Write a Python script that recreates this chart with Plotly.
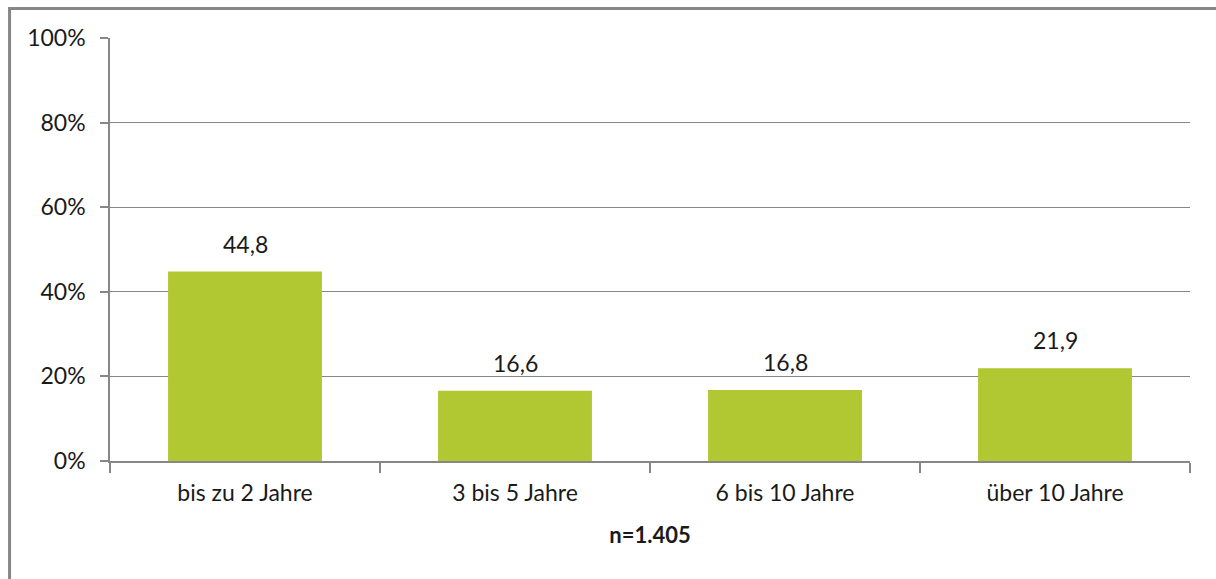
import plotly.graph_objects as go

categories = ["bis zu 2 Jahre", "3 bis 5 Jahre", "6 bis 10 Jahre", "über 10 Jahre"]
values = [44.8, 16.6, 16.8, 21.9]
y_ticks = [0, 20, 40, 60, 80, 100]
y_tick_labels = ["0%", "20%", "40%", "60%", "80%", "100%"]
x_title = "n=1.405"

FONT = "Lato, Carlito, Calibri, sans-serif"
GRID = "#878787"
FS = 23

fig = go.Figure()
fig.add_trace(go.Bar(
    x=categories, y=values, width=0.57,
    marker=dict(color="#b1c833", line=dict(width=0)),
    hoverinfo="skip",
))

for c, v in zip(categories, values):
    fig.add_annotation(x=c, y=v, text=f"{v:.1f}".replace(".", ","),
                       showarrow=False, yanchor="bottom", yshift=12,
                       font=dict(family=FONT, size=FS, color="#1a1a1a"))

# outer chart border (left/top visible, right/bottom beyond picture)
fig.add_shape(type="rect", xref="paper", yref="paper",
              x0=-0.0930, x1=1.06, y0=-0.4, y1=1.0697,
              line=dict(color="#878787", width=3), layer="below")

fig.update_layout(
    width=1216, height=579,
    margin=dict(l=110, r=26, t=38, b=118),
    paper_bgcolor="white", plot_bgcolor="white",
    showlegend=False,
    font=dict(family=FONT, size=FS, color="#1a1a1a"),
    xaxis=dict(
        showline=True, linecolor=GRID, linewidth=2,
        ticks="outside", tickson="boundaries", ticklen=10, tickcolor=GRID, tickwidth=1.5,
        ticklabelstandoff=10,
        tickfont=dict(family=FONT, size=FS, color="#1a1a1a"),
        title=dict(text="<b>" + x_title + "</b>", standoff=23,
                   font=dict(family=FONT, size=FS - 1, color="#1a1a1a")),
        showgrid=False, zeroline=False,
    ),
    yaxis=dict(
        range=[0, 100], tickvals=y_ticks, ticktext=y_tick_labels,
        showline=True, linecolor=GRID, linewidth=1.5,
        ticks="outside", ticklen=8, tickcolor=GRID, tickwidth=1.5,
        ticklabelstandoff=10,
        showgrid=True, gridcolor=GRID, gridwidth=1.2,
        zeroline=False,
        tickfont=dict(family=FONT, size=FS, color="#1a1a1a"),
    ),
)

fig.write_html("out.html")
